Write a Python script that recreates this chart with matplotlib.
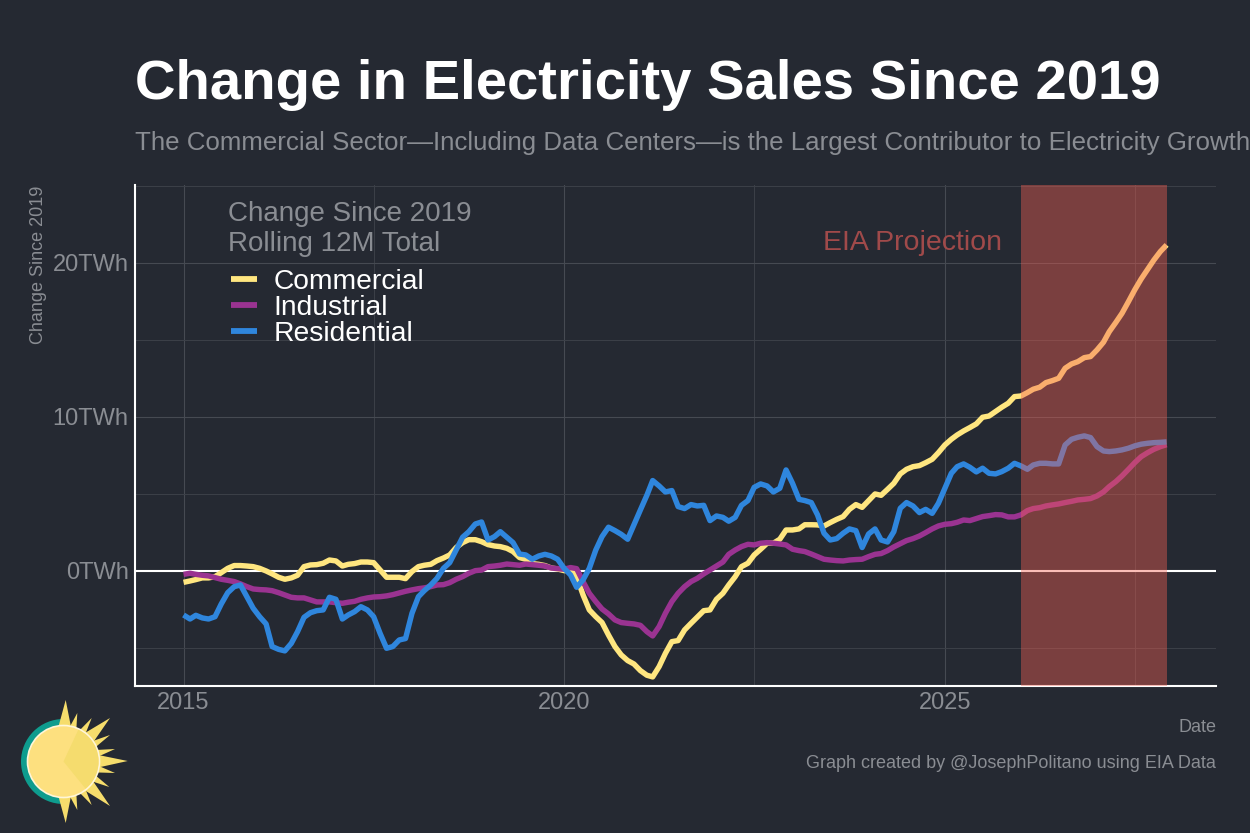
import numpy as np
import pandas as pd
import matplotlib
matplotlib.use('Agg')
import matplotlib.pyplot as plt
from matplotlib.patches import Circle, Wedge, Polygon
from matplotlib.ticker import FuncFormatter

plt.rcParams['font.family'] = ['Liberation Sans', 'DejaVu Sans']

months = pd.date_range('2015-01-01', periods=156, freq='MS')

commercial = [-0.74, -0.65, -0.56, -0.45, -0.45, -0.37, -0.11, 0.17, 0.35, 0.35, 0.32, 0.28,
              0.17, 0.0, -0.19, -0.41, -0.54, -0.45, -0.28, 0.28, 0.39, 0.41, 0.5, 0.71,
              0.65, 0.32, 0.43, 0.48, 0.58, 0.58, 0.54, 0.06, -0.41, -0.41, -0.41, -0.5,
              -0.04, 0.28, 0.37, 0.43, 0.67, 0.84, 1.04, 1.52, 1.84, 2.03, 2.03, 1.9,
              1.71, 1.62, 1.58, 1.47, 1.26, 0.87, 0.76, 0.48, 0.43, 0.35, 0.19, 0.13,
              0.02, 0.06, -0.37, -1.56, -2.53, -2.97, -3.35, -4.16, -4.91, -5.45, -5.82, -6.04,
              -6.47, -6.77, -6.88, -6.21, -5.35, -4.59, -4.52, -3.83, -3.4, -3.0, -2.58, -2.53,
              -1.84, -1.45, -0.91, -0.37, 0.28, 0.5, 1.04, 1.41, 1.8, 1.8, 2.06, 2.66,
              2.66, 2.73, 3.0, 3.0, 2.99, 2.92, 3.14, 3.35, 3.53, 4.0, 4.31, 4.13,
              4.57, 5.0, 4.91, 5.3, 5.69, 6.3, 6.6, 6.77, 6.84, 7.03, 7.25, 7.68,
              8.18, 8.55, 8.83, 9.09, 9.31, 9.55, 9.98, 10.06, 10.35, 10.63, 10.89, 11.32,
              11.36, 11.58, 11.8, 11.93, 12.23, 12.36, 12.51, 13.16, 13.44, 13.59, 13.85, 13.92,
              14.35, 14.85, 15.54, 16.13, 16.73, 17.49, 18.25, 18.96, 19.59, 20.19, 20.74, 21.17]

industrial = [-0.22, -0.15, -0.22, -0.28, -0.32, -0.43, -0.54, -0.61, -0.69, -0.84, -1.02, -1.17,
              -1.21, -1.23, -1.28, -1.41, -1.56, -1.71, -1.75, -1.75, -1.88, -2.01, -2.01, -2.01,
              -2.06, -2.1, -2.03, -1.97, -1.84, -1.75, -1.69, -1.67, -1.62, -1.54, -1.43, -1.32,
              -1.23, -1.15, -1.1, -1.02, -0.91, -0.89, -0.76, -0.54, -0.37, -0.15, 0.02, 0.06,
              0.28, 0.32, 0.37, 0.45, 0.41, 0.37, 0.45, 0.41, 0.37, 0.32, 0.19, 0.15,
              0.11, 0.22, 0.15, -0.69, -1.45, -1.99, -2.47, -2.79, -3.18, -3.35, -3.4, -3.44,
              -3.53, -3.94, -4.22, -3.61, -2.75, -1.99, -1.45, -1.02, -0.69, -0.48, -0.19, 0.06,
              0.32, 0.58, 1.08, 1.36, 1.58, 1.73, 1.69, 1.8, 1.84, 1.8, 1.75, 1.69,
              1.41, 1.32, 1.26, 1.1, 0.93, 0.76, 0.71, 0.67, 0.65, 0.71, 0.74, 0.76,
              0.93, 1.08, 1.13, 1.32, 1.56, 1.77, 1.97, 2.1, 2.27, 2.49, 2.73, 2.92,
              3.03, 3.07, 3.16, 3.31, 3.27, 3.4, 3.53, 3.59, 3.66, 3.64, 3.51, 3.51,
              3.64, 3.92, 4.05, 4.11, 4.22, 4.29, 4.35, 4.44, 4.52, 4.61, 4.65, 4.7,
              4.87, 5.13, 5.48, 5.8, 6.17, 6.6, 7.03, 7.42, 7.68, 7.9, 8.07, 8.2]

residential = [-2.86, -3.12, -2.88, -3.05, -3.12, -2.97, -2.14, -1.41, -1.02, -0.91, -1.67, -2.42,
               -2.97, -3.44, -4.91, -5.09, -5.19, -4.7, -3.94, -3.01, -2.71, -2.58, -2.53, -1.71,
               -1.84, -3.12, -2.86, -2.64, -2.32, -2.53, -2.97, -4.05, -5.02, -4.91, -4.48, -4.39,
               -2.75, -1.67, -1.28, -0.91, -0.48, 0.17, 0.54, 1.36, 2.19, 2.55, 3.05, 3.18,
               2.01, 2.23, 2.55, 2.19, 1.84, 1.1, 1.04, 0.76, 0.97, 1.08, 0.97, 0.76,
               0.17, -0.26, -1.06, -0.58, 0.17, 1.36, 2.23, 2.84, 2.62, 2.38, 2.06, 3.0,
               3.96, 4.91, 5.87, 5.52, 5.13, 5.22, 4.18, 4.05, 4.31, 4.22, 4.26, 3.27,
               3.57, 3.48, 3.23, 3.48, 4.26, 4.57, 5.43, 5.65, 5.52, 5.13, 5.37, 6.56,
               5.69, 4.65, 4.57, 4.44, 3.64, 2.45, 2.01, 2.1, 2.45, 2.73, 2.62, 1.52,
               2.4, 2.73, 2.01, 1.88, 2.55, 4.07, 4.44, 4.22, 3.79, 4.0, 3.74, 4.39,
               5.37, 6.34, 6.77, 6.95, 6.73, 6.43, 6.67, 6.34, 6.3, 6.45, 6.67, 6.99,
               6.82, 6.6, 6.88, 6.99, 6.99, 6.95, 6.95, 8.18, 8.55, 8.68, 8.77, 8.66,
               8.07, 7.79, 7.75, 7.79, 7.86, 7.97, 8.12, 8.23, 8.29, 8.33, 8.35, 8.38]

year_ticks = ['2015', '2020', '2025']
minor_year_ticks = ['2017-07-01', '2022-07-01', '2027-07-01']
projection_start = '2026-01-01'
projection_end = '2027-12-01'

bg = '#252932'
gray = '#8a8d93'
W, H = 1250, 833

fig = plt.figure(figsize=(W / 100, H / 100), dpi=100, facecolor=bg)
ax = fig.add_axes([135 / W, 1 - 686 / H, (1216 - 135) / W, (686 - 185) / H], facecolor=bg)

ax.plot(months, commercial, color='#FFE680', lw=3.9, label='Commercial', zorder=3, solid_capstyle='butt')
ax.plot(months, industrial, color='#9A3391', lw=3.9, label='Industrial', zorder=3, solid_capstyle='butt')
ax.plot(months, residential, color='#2F86DD', lw=3.9, label='Residential', zorder=3, solid_capstyle='butt')
ax.axhline(0, color='white', lw=1.5, zorder=2)
ax.axvspan(pd.Timestamp(projection_start), pd.Timestamp(projection_end), color='#F45F52',
           alpha=0.41, lw=0, zorder=4)

ax.set_xlim(pd.Timestamp('2014-05-13'), pd.Timestamp('2028-07-25'))
ax.set_ylim(-7.47, 25.06)
ax.set_xticks([pd.Timestamp(y + '-01-01') for y in year_ticks])
ax.set_xticklabels(year_ticks)
ax.set_xticks([pd.Timestamp(d) for d in minor_year_ticks], minor=True)
ax.set_yticks([0, 10, 20])
ax.set_yticks([-5, 5, 15, 25], minor=True)
ax.yaxis.set_major_formatter(FuncFormatter(lambda v, p: '{:.0f}TWh'.format(v)))
ax.grid(which='major', color='#464a52', lw=0.8)
ax.grid(which='minor', color='#3c4048', lw=0.7)
ax.set_axisbelow(True)
ax.tick_params(which='both', length=0)
ax.tick_params(axis='both', labelsize=17, labelcolor=gray, pad=4.5)
for side in ['top', 'right']:
    ax.spines[side].set_visible(False)
for side in ['left', 'bottom']:
    ax.spines[side].set_color('white')
    ax.spines[side].set_linewidth(1.5)

leg = ax.legend(loc='upper left', bbox_to_anchor=(0.089, 0.969), frameon=False, fontsize=20.3,
                title='Change Since 2019\nRolling 12M Total', title_fontsize=20,
                alignment='left', handlelength=0.92, handletextpad=0.58, labelspacing=0.0,
                borderpad=0, borderaxespad=0, labelcolor='white')
leg.get_title().set_color(gray)
leg.get_title().set_linespacing(1.2)
leg.get_title().set_position((-3, 0))
leg._legend_box.sep = 9
for line in leg.get_lines():
    line.set_linewidth(4.2)
    line.set_solid_capstyle('butt')

ax.text(pd.Timestamp('2025-10-01'), 21.3, 'EIA Projection', color='#A04A4A', fontsize=20.5,
        ha='right', va='center')

fig.text(135 / W, 1 - 85 / H, 'Change in Electricity Sales Since 2019', color='white',
         fontsize=40.5, fontweight='bold', va='center', ha='left')
fig.text(135 / W, 1 - 143 / H,
         'The Commercial Sector\u2014Including Data Centers\u2014is the Largest Contributor to Electricity Growth',
         color=gray, fontsize=18.6, va='center', ha='left')
fig.text(39 / W, 1 - 265 / H, 'Change Since 2019', color=gray, fontsize=13, rotation=90,
         va='center', ha='center')
fig.text(1216 / W, 1 - 727 / H, 'Date', color=gray, fontsize=13, va='center', ha='right')
fig.text(1216 / W, 1 - 763 / H, 'Graph created by @JosephPolitano using EIA Data', color=gray,
         fontsize=13, va='center', ha='right')

# sun logo, drawn in pixel coordinates
logo = fig.add_axes([0, 0, 1, 1], facecolor='none')
logo.set_xlim(0, W)
logo.set_ylim(H, 0)
logo.axis('off')
cx, cy, r = 63.5, 761.5, 36
logo.add_patch(Wedge((cx, cy), 42.5, 90, 270, color='#0E9C8E', lw=0))
tips = [(65.7, 700), (77.3, 713), (91.7, 718), (110, 718), (110, 735), (115, 749), (127.7, 761),
        (115, 773), (109.3, 787), (110, 806), (91.7, 805), (77.3, 810), (65.7, 823)]
for tx, ty in tips:
    a = np.arctan2(ty - cy, tx - cx)
    half = 0.17 if np.hypot(tx - cx, ty - cy) > 55 else 0.09
    logo.add_patch(Polygon([(tx, ty),
                            (cx + r * np.cos(a + half), cy + r * np.sin(a + half)),
                            (cx + r * np.cos(a - half), cy + r * np.sin(a - half))],
                           color='#F6DD6C', lw=0))
logo.add_patch(Circle((cx, cy), r, facecolor='#FDE07F', edgecolor='#FFF6D8', lw=1.2))
logo.add_patch(Wedge((cx, cy), r - 1, -65, 51, facecolor='#F5DC6E', lw=0))

fig.savefig('out.png', dpi=100, facecolor=bg)
